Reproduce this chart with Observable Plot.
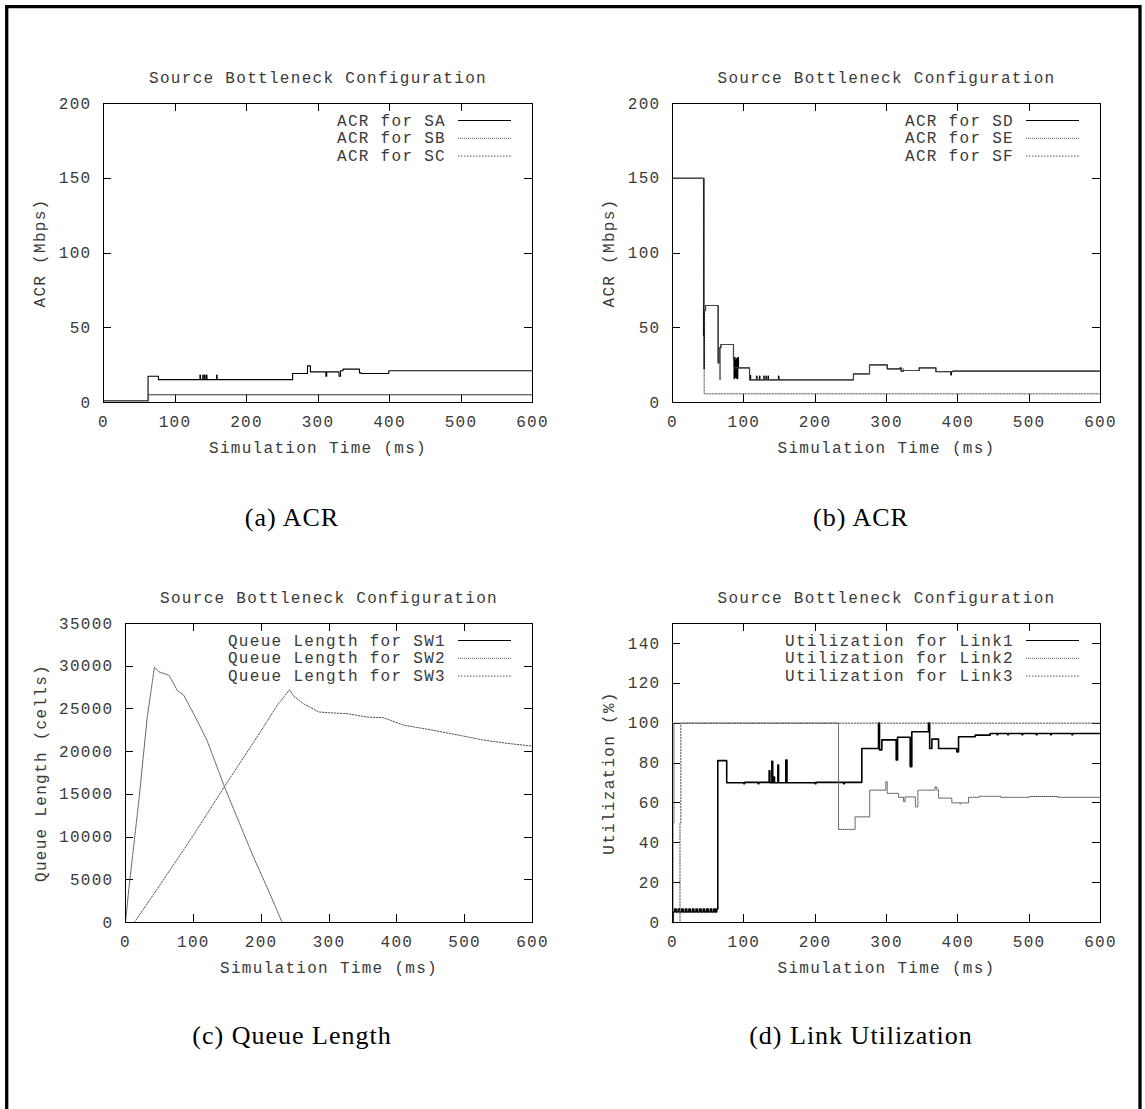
<!DOCTYPE html>
<html>
<head>
<meta charset="utf-8">
<script src="https://cdn.jsdelivr.net/npm/d3@7"></script>
<script src="https://cdn.jsdelivr.net/npm/@observablehq/plot@0.6"></script>
<style>
  html, body { margin: 0; padding: 0; background: #fff; }
  #figure { position: relative; width: 1145px; height: 1109px; overflow: hidden; background: #fff; }
  #figure .panel { position: absolute; }
  #figure .panel text { letter-spacing: 1.3px; }
  #overlay { position: absolute; left: 0; top: 0; pointer-events: none; }
  #overlay text { letter-spacing: 1px; }
</style>
</head>
<body>
<div id="figure"></div>
<script>
// ---- shared text and ticks ----
const chartTitle = "Source Bottleneck Configuration";
const timeLabel = "Simulation Time (ms)";
const timeTicks = [0, 100, 200, 300, 400, 500, 600];
const acrTicks = [0, 50, 100, 150, 200];
const queueTicks = [0, 5000, 10000, 15000, 20000, 25000, 30000, 35000];
const utilTicks = [0, 20, 40, 60, 80, 100, 120, 140];

// ---- (a) ACR for SA, SB, SC : [time ms, Mbps], value holds until next point ----
const acrLabelsA = ["ACR for SA", "ACR for SB", "ACR for SC"];
const acrSA = [[0, 1.2], [62.3, 17.6], [76.8, 15.3], [134.9, 18.3], [135.6, 15.3], [138.8, 18.3], [139.5, 15.3],
  [141.3, 18.3], [142, 15.3], [144, 18.3], [144.7, 15.3], [158.2, 18.3], [158.9, 15.3], [264.5, 19.4],
  [285.3, 24.5], [289.4, 20.5], [311, 17.6], [312.2, 20.5], [329.4, 17.6], [331.5, 21.2], [335, 22.3],
  [358, 19.8], [360.5, 19.4], [399, 21.2], [600, 21.2]];
const acrSB = [[0, 1.2], [63, 5.2], [600, 5.2]];
const acrSC = [[0, 1.2], [63, 5.2], [600, 5.2]];

// ---- (b) ACR for SD, SE, SF ----
const acrLabelsB = ["ACR for SD", "ACR for SE", "ACR for SF"];
const acrSD = [[0, 150], [43.5, 44.8], [44.2, 22.5], [44.8, 61.5], [46.3, 64.9], [64, 26.5], [65.5, 36.6],
  [67.8, 38.8], [85.5, 29], [86.3, 16], [87, 30], [87.8, 17], [88.5, 28], [89.3, 16.5], [90, 29.5],
  [90.8, 16], [91.5, 30], [92.5, 23.2], [108, 15.2], [108.3, 18], [109.5, 15.2], [118, 17.6], [118.5, 15.2],
  [122, 17.6], [122.5, 15.2], [128, 17.6], [128.5, 15.2], [131, 17.6], [131.5, 15.2], [134, 17.6],
  [134.5, 15.2], [148.6, 17.6], [149.2, 15.2], [253.7, 19.2], [276.2, 25.2], [301, 22.5], [319.2, 23.2],
  [320.5, 21], [324, 21.4], [345.8, 23.2], [369.2, 20.7], [390.2, 18.5], [391, 20.7], [393, 21], [600, 21]];
const acrSE = [[0, 150], [44.4, 61.5], [46.3, 64.9], [64, 26.5], [65.5, 36.6], [66.3, 15.2], [67, 36.6],
  [67.8, 38.8], [85.5, 23.2], [108, 15.2], [253.7, 19.2], [276.2, 25.2], [301, 22.5], [324, 21.4],
  [345.8, 23.2], [369.2, 20.7], [393, 21], [600, 21]];
const acrSF = [[0, 150], [44.4, 5.8], [600, 5.8]];

// ---- (c) queue length in cells ----
const queueLabels = ["Queue Length for SW1", "Queue Length for SW2", "Queue Length for SW3"];
const queueSW1 = [[0, 0], [600, 0]];
const queueSW2 = [[0, 0], [5, 4000], [20, 14500], [32, 24000], [42.7, 29900], [49, 29350], [63.8, 28950],
  [71.2, 27950], [76, 27200], [85.9, 26600], [105.6, 23650], [120.3, 21300], [145.8, 15900], [164.5, 12300],
  [189, 7600], [211, 3700], [231, 0], [600, 0]];
const queueSW3 = [[0, 0], [13, 0], [46.6, 3900], [100, 10200], [145.8, 15900], [198.8, 22300], [223.4, 25400],
  [242, 27260], [247.9, 26500], [262.6, 25600], [284.7, 24650], [300, 24550], [326.5, 24450], [356, 24050],
  [380.4, 23970], [409.9, 23100], [449, 22570], [493.4, 21900], [527.7, 21350], [567, 20930], [600, 20650]];

// ---- (d) link utilization in % ----
const utilLabels = ["Utilization for Link1", "Utilization for Link2", "Utilization for Link3"];
const utilLink1 = [[0, 0], [1, 5.3], [3, 6.8], [5, 5.3], [8, 6.8], [10, 5.3], [13, 6.8], [15, 5.3], [18, 6.8],
  [20, 5.3], [23, 6.8], [25, 5.3], [28, 6.8], [30, 5.3], [33, 6.8], [35, 5.3], [38, 6.8], [40, 5.3],
  [43, 6.8], [45, 5.3], [48, 6.8], [50, 5.3], [53, 6.8], [55, 5.3], [58, 6.8], [60, 5.3], [62, 6.8],
  [63.5, 81.2], [76, 70.1], [100, 69.6], [101, 70.3], [120, 69.6], [121, 70.3], [135.5, 76.1], [136.5, 70.1],
  [139.3, 80.9], [140.5, 70.1], [142, 73], [143, 70.1], [147.7, 79], [148.7, 70.1], [158.9, 81.5],
  [160.5, 70.1], [200, 69.6], [201, 70.3], [240, 69.6], [241, 70.3], [265.4, 87.3], [288.8, 100],
  [290.2, 86.6], [293.5, 91.6], [313.6, 81.5], [315.5, 92.9], [333.2, 78.2], [335.5, 95.7], [358.9, 100],
  [360.5, 87.3], [363.6, 92], [373, 87.3], [398.6, 85.6], [401, 93.2], [424.3, 94], [445.3, 94.8],
  [455, 94.2], [456, 94.8], [470, 94.2], [471, 94.8], [490, 94.2], [491, 94.8], [510, 94.2], [511, 94.8],
  [530, 94.2], [531, 94.8], [560, 94.2], [561, 94.8], [600, 94.8]];
const utilLink2 = [[0, 0], [0.8, 50], [2, 100], [232.7, 46.7], [256, 53], [276.5, 66.4], [299, 70.6],
  [301, 64.8], [317, 62.8], [324, 60.6], [326, 63], [340.5, 58], [344, 66.4], [368, 68], [370.5, 66.4],
  [373, 62.4], [391.6, 60], [403, 59.5], [404, 60], [415, 62.8], [430, 63.3], [460, 62.8], [500, 63.2],
  [540, 62.8], [600, 62.8]];
const utilLink3 = [[0, 0], [10.5, 50], [11.7, 100], [600, 100]];

// ---- captions under each chart ----
const captions = ["(a) ACR", "(b) ACR", "(c) Queue Length", "(d) Link Utilization"];

// line styles: solid, fine dots, slightly coarser dots
const lineStyles = [
  {stroke: "#000", dash: null},
  {stroke: "#555", dash: "1,1"},
  {stroke: "#555", dash: "1.5,1.5"}
];
const inkColor = "#3a3a3a";
const tickLen = 8;

const figure = document.getElementById("figure");

function drawPanel(cfg) {
  const W = 570, H = 480;
  const lines = cfg.series.map((s, i) => Plot.line(s, {
    x: d => d[0], y: d => d[1], curve: cfg.curve,
    stroke: lineStyles[i].stroke, strokeWidth: i === 0 ? cfg.solidWidth : 1, strokeDasharray: lineStyles[i].dash
  }));
  // inward tick marks on all four sides, placed through the plot's own scales
  const ticks = (index, scales, values, dim) => {
    const g = d3.create("svg:g").attr("stroke", "#000").attr("fill", "none");
    const L = dim.marginLeft, R = dim.width - dim.marginRight;
    const T = dim.marginTop, B = dim.height - dim.marginBottom;
    const path = d3.path();
    timeTicks.forEach(t => {
      const px = Math.round(scales.x(t)) + 0.5;
      path.moveTo(px, B); path.lineTo(px, B - tickLen);
      path.moveTo(px, T); path.lineTo(px, T + tickLen);
    });
    cfg.yTicks.forEach(v => {
      const py = Math.round(scales.y(v)) + 0.5;
      path.moveTo(L, py); path.lineTo(L + tickLen, py);
      path.moveTo(R, py); path.lineTo(R - tickLen, py);
    });
    g.append("path").attr("d", path.toString());
    return g.node();
  };
  // key in the upper-right corner of the frame
  const key = (index, scales, values, dim) => {
    const g = d3.create("svg:g");
    const R = dim.width - dim.marginRight, T = dim.marginTop;
    cfg.labels.forEach((label, i) => {
      const y = T + 17 + i * 17.8;
      g.append("text").attr("x", R - 86).attr("y", y).attr("dy", "0.35em")
        .attr("text-anchor", "end").attr("fill", inkColor).text(label);
      g.append("line").attr("x1", R - 74).attr("x2", R - 21).attr("y1", y + 0.5).attr("y2", y + 0.5)
        .attr("stroke", lineStyles[i].stroke).attr("stroke-dasharray", lineStyles[i].dash);
    });
    return g.node();
  };
  const chart = Plot.plot({
    width: W, height: H,
    marginLeft: cfg.ml, marginRight: cfg.mr, marginTop: 103, marginBottom: 78,
    style: {fontFamily: "'Liberation Mono', monospace", fontSize: "16px", color: inkColor, background: "transparent", overflow: "visible"},
    x: {domain: [0, 600]},
    y: {domain: cfg.yDomain},
    marks: [
      Plot.axisX(timeTicks, {anchor: "bottom", tickSize: 0, tickPadding: 13, tickFormat: d => String(d), label: null}),
      Plot.axisY(cfg.yTicks, {anchor: "left", tickSize: 0, tickPadding: 12, tickFormat: d => String(d), label: null}),
      ticks,
      ...lines,
      Plot.frame({stroke: "#000"}),
      Plot.text([chartTitle], {text: d => d, frameAnchor: "top", dy: -26, lineAnchor: "middle"}),
      Plot.text([timeLabel], {text: d => d, frameAnchor: "bottom", dy: 45, lineAnchor: "middle"}),
      Plot.text([cfg.yLabel], {text: d => d, frameAnchor: "left", textAnchor: "middle", dx: -cfg.yLabelOffset, rotate: -90, lineAnchor: "middle"}),
      key
    ]
  });
  chart.classList.add("panel");
  chart.style.left = cfg.left + "px";
  chart.style.top = cfg.top + "px";
  figure.appendChild(chart);
}

drawPanel({left: 0, top: 0, ml: 103, mr: 38, yDomain: [0, 200], yTicks: acrTicks, curve: "step-after", solidWidth: 1.1,
  series: [acrSA, acrSB, acrSC], labels: acrLabelsA, yLabel: "ACR (Mbps)", yLabelOffset: 64});
drawPanel({left: 569, top: 0, ml: 103, mr: 39, yDomain: [0, 200], yTicks: acrTicks, curve: "step-after", solidWidth: 1.2,
  series: [acrSD, acrSE, acrSF], labels: acrLabelsB, yLabel: "ACR (Mbps)", yLabelOffset: 64});
drawPanel({left: 0, top: 520, ml: 125, mr: 38, yDomain: [0, 35000], yTicks: queueTicks, curve: "linear", solidWidth: 1,
  series: [queueSW1, queueSW2, queueSW3], labels: queueLabels, yLabel: "Queue Length (cells)", yLabelOffset: 85});
drawPanel({left: 569, top: 520, ml: 103, mr: 39, yDomain: [0, 150], yTicks: utilTicks, curve: "step-after", solidWidth: 1.6,
  series: [utilLink1, utilLink2, utilLink3], labels: utilLabels, yLabel: "Utilization (%)", yLabelOffset: 64});

// page border and the captions below each chart
const overlay = d3.create("svg").attr("id", "overlay").attr("width", 1145).attr("height", 1109);
overlay.append("path").attr("d", "M6.7,1112V6.7H1140V1112")
  .attr("fill", "none").attr("stroke", "#000").attr("stroke-width", 3.3);
const captionPos = [[292, 526], [861, 526], [292, 1044], [861, 1044]];
captions.forEach((c, i) => {
  overlay.append("text").attr("x", captionPos[i][0]).attr("y", captionPos[i][1])
    .attr("text-anchor", "middle").attr("font-family", "'Liberation Serif', 'Times New Roman', serif")
    .attr("font-size", 26).attr("fill", "#000").text(c);
});
figure.appendChild(overlay.node());
</script>
</body>
</html>
